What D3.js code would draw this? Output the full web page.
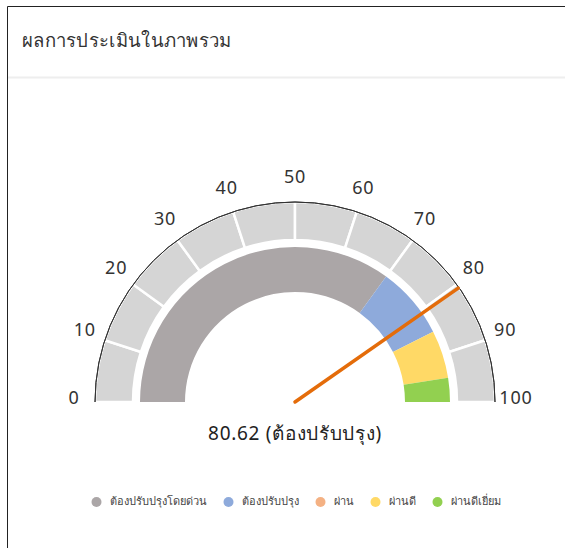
<!DOCTYPE html>
<html>
<head>
<meta charset="utf-8">
<script src="https://cdn.jsdelivr.net/npm/d3@7"></script>
<style>
  body { margin: 0; background: #fff; font-family: "Noto Sans", "Open Sans", sans-serif; }
  svg text { fill: #333; }
</style>
</head>
<body>
<div id="chart"></div>
<script>
// chart data
var title = "ผลการประเมินในภาพรวม";
var score = 80.62;
var scoreLabel = "ต้องปรับปรุง";
var bandNames = ["ต้องปรับปรุงโดยด่วน", "ต้องปรับปรุง", "ผ่าน", "ผ่านดี", "ผ่านดีเยี่ยม"];
var bandFrom = [0, 70, 85, 85, 95];
var bandTo = [70, 85, 85, 95, 100];
var bandColors = ["#aba6a7", "#8eaadb", "#f4b183", "#ffd966", "#92d050"];
var ticks = [0, 10, 20, 30, 40, 50, 60, 70, 80, 90, 100];

var width = 565, height = 548;
var cx = 295, cy = 402;

var svg = d3.select("#chart").append("svg")
    .attr("width", width)
    .attr("height", height);

// panel frame + header
svg.append("path")
    .attr("d", "M7.5 " + height + " V6.5 H" + width)
    .attr("fill", "none")
    .attr("stroke", "#222")
    .attr("stroke-width", 1);

svg.append("line")
    .attr("x1", 8).attr("x2", width)
    .attr("y1", 77.5).attr("y2", 77.5)
    .attr("stroke", "#eeeeee")
    .attr("stroke-width", 2);

svg.append("text")
    .attr("x", 22)
    .attr("y", 47)
    .style("font-size", "18.5px")
    .style("letter-spacing", "0.3px")
    .text(title);

var angle = d3.scaleLinear().domain([0, 100]).range([-Math.PI / 2, Math.PI / 2]);

var g = svg.append("g").attr("transform", "translate(" + cx + "," + cy + ")");

// outer scale band
var outerArc = d3.arc().innerRadius(162).outerRadius(200);
var segs = d3.range(ticks.length - 1);
g.selectAll(".seg")
    .data(segs)
    .enter().append("path")
    .attr("class", "seg")
    .attr("d", function(i) {
      return outerArc({ startAngle: angle(ticks[i]), endAngle: angle(ticks[i + 1]) });
    })
    .attr("fill", "#d5d5d5")
    .attr("stroke", "#fff")
    .attr("stroke-width", 2.5);

// thin outline on the outer edge
var rimArc = d3.arc().innerRadius(200).outerRadius(200);
g.append("path")
    .attr("d", rimArc({ startAngle: angle(0), endAngle: angle(100) }))
    .attr("fill", "none")
    .attr("stroke", "#333")
    .attr("stroke-width", 1);

// coloured bands
var bandArc = d3.arc().innerRadius(110).outerRadius(155);
g.selectAll(".band")
    .data(bandNames)
    .enter().append("path")
    .attr("class", "band")
    .attr("d", function(d, i) {
      return bandArc({ startAngle: angle(bandFrom[i]), endAngle: angle(bandTo[i]) });
    })
    .attr("fill", function(d, i) { return bandColors[i]; });

// tick labels
g.selectAll(".tick")
    .data(ticks)
    .enter().append("text")
    .attr("class", "tick")
    .attr("x", function(d) { return 221 * Math.sin(angle(d)); })
    .attr("y", function(d) { return -221 * Math.cos(angle(d)) - 3; })
    .attr("text-anchor", "middle")
    .attr("dominant-baseline", "middle")
    .style("font-size", "18px")
    .style("letter-spacing", "0.8px")
    .text(function(d) { return d; });

// needle
var a = angle(score);
g.append("line")
    .attr("x1", 0).attr("y1", 0)
    .attr("x2", 199 * Math.sin(a))
    .attr("y2", -199 * Math.cos(a))
    .attr("stroke", "#e46c0a")
    .attr("stroke-width", 3.5)
    .attr("stroke-linecap", "round");

g.append("text")
    .attr("x", 0)
    .attr("y", 38)
    .attr("text-anchor", "middle")
    .style("font-size", "19px")
    .style("letter-spacing", "0.7px")
    .style("fill", "#222")
    .text(score + " (" + scoreLabel + ")");

// legend
var legend = svg.append("g").attr("transform", "translate(0,502)");
var items = legend.selectAll(".item")
    .data(bandNames)
    .enter().append("g")
    .attr("class", "item");

items.append("circle")
    .attr("r", 5)
    .attr("fill", function(d, i) { return bandColors[i]; });

items.append("text")
    .attr("x", 13)
    .attr("dominant-baseline", "middle")
    .style("font-size", "11px")
    .style("fill", "#444")
    .text(function(d) { return d; });

var x = 0, pos = [];
items.each(function() {
  pos.push(x);
  x += 13 + d3.select(this).select("text").node().getComputedTextLength() + 22;
});
var total = x - 22 + 5;
var start = 296 - total / 2 + 5;
items.attr("transform", function(d, i) { return "translate(" + (start + pos[i]) + ",0)"; });
</script>
</body>
</html>
